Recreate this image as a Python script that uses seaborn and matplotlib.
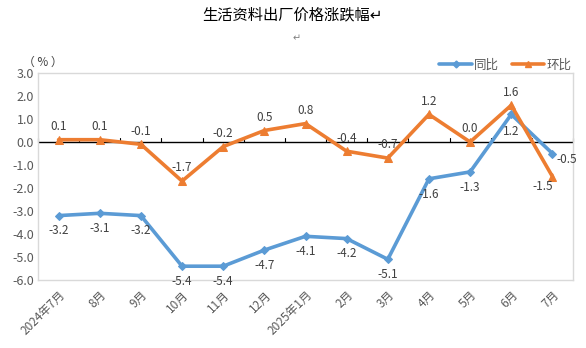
import matplotlib
matplotlib.use("Agg")
import matplotlib.pyplot as plt
import seaborn as sns
import pandas as pd
import numpy as np
from matplotlib.lines import Line2D

categories = ["2024年7月", "8月", "9月", "10月", "11月", "12月", "2025年1月",
              "2月", "3月", "4月", "5月", "6月", "7月"]
yoy = [-3.2, -3.1, -3.2, -5.4, -5.4, -4.7, -4.1, -4.2, -5.1, -1.6, -1.3, 1.2, -0.5]
mom = [0.1, 0.1, -0.1, -1.7, -0.2, 0.5, 0.8, -0.4, -0.7, 1.2, 0.0, 1.6, -1.5]
yticks = [3.0, 2.0, 1.0, 0.0, -1.0, -2.0, -3.0, -4.0, -5.0, -6.0]

BLUE = "#5B9BD5"
ORANGE = "#ED7D31"

sns.set_style("white")
plt.rcParams['font.family'] = ['Noto Sans CJK SC', 'DejaVu Sans']
plt.rcParams['axes.unicode_minus'] = False

fig = plt.figure(figsize=(5.86, 3.48), dpi=100)
ax = fig.add_axes([38/586, 1-280/348, (573-38)/586, (280-73)/348])

df = pd.DataFrame({"idx": np.arange(len(categories)), "同比": yoy, "环比": mom})

sns.lineplot(data=df, x="idx", y="同比", ax=ax, color=BLUE, lw=2.6,
             marker="D", markersize=4.5, markeredgecolor=BLUE, zorder=3)
sns.lineplot(data=df, x="idx", y="环比", ax=ax, color=ORANGE, lw=2.6,
             marker="^", markersize=6, markeredgecolor=ORANGE, zorder=4)

n = len(categories)
ax.set_xlim(-0.5, n - 0.5)
ax.set_ylim(-6.0, 3.0)
ax.set_yticks(yticks)
ax.set_yticklabels([f"{v:.1f}" for v in yticks], fontsize=9, color="#595959")
ax.set_xticks(np.arange(n))
ax.set_xticklabels(categories, rotation=45, ha="right", rotation_mode="anchor",
                   fontsize=8.5, color="#595959")
ax.tick_params(axis="both", length=0, pad=3)
ax.tick_params(axis="x", pad=6)
ax.set_xlabel("")
ax.set_ylabel("")
for s in ax.spines.values():
    s.set_color("#D9D9D9")
    s.set_linewidth(1.0)

# zero line with category-boundary tick marks
ax.axhline(0, color="black", lw=1.0, zorder=2)
for b in np.arange(n + 1) - 0.5:
    ax.plot([b, b], [0, 0.18], color="black", lw=0.8, zorder=2, clip_on=False)

lab_col = "#404040"
fs = 8.5
# orange labels
for i, v in enumerate(mom):
    if i == n - 1:
        off = (-7, -7)
    else:
        off = (0, 9.5)
    ax.annotate(f"{v:.1f}", (i, v), xytext=off, textcoords="offset points",
                ha="center", va="center", fontsize=fs, color=lab_col, zorder=5)
# blue labels
for i, v in enumerate(yoy):
    if i == n - 1:
        off = (3, -4)
        ha = "left"
    elif i == n - 2:
        off = (0, -12)
        ha = "center"
    else:
        off = (0, -11)
        ha = "center"
    ax.annotate(f"{v:.1f}", (i, v), xytext=off, textcoords="offset points",
                ha=ha, va="center", fontsize=fs, color=lab_col, zorder=5)

fig.text(292/586, 1-15/348, "生活资料出厂价格涨跌幅↵", ha="center", va="center",
         fontsize=11, color="black", family=['Noto Sans CJK SC', 'DejaVu Sans'])
fig.text(297/586, 1-38/348, "↵", ha="center", va="center",
         fontsize=7, color="#808080", family=['DejaVu Sans'])
fig.text(23/586, 1-62/348, "（ % ）", ha="left", va="center", fontsize=8.5, color="#404040")

handles = [Line2D([], [], color=BLUE, lw=2.6, marker="D", markersize=3.5),
           Line2D([], [], color=ORANGE, lw=2.6, marker="^", markersize=5)]
fig.legend(handles, ["同比", "环比"], loc="center right",
           bbox_to_anchor=(583/586, 1-65/348), ncol=2, frameon=False,
           fontsize=9, handlelength=2.6, columnspacing=1.0, handletextpad=0.2,
           labelcolor="#595959")

fig.savefig("out.png", dpi=100)
